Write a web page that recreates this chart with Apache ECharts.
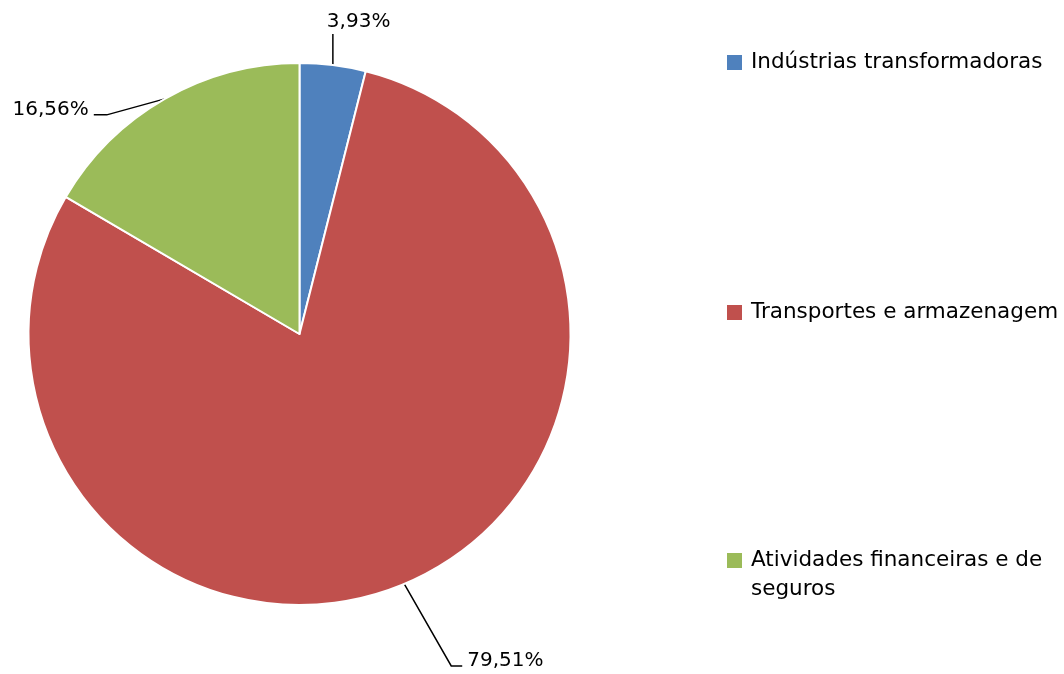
<!DOCTYPE html>
<html>
<head>
<meta charset="utf-8">
<script src="https://cdn.jsdelivr.net/npm/echarts@6/dist/echarts.min.js"></script>
<style>
html,body{margin:0;padding:0;background:#fff;}
#c{width:1064px;height:674px;}
</style>
</head>
<body>
<div id="c"></div>
<script>
var categories = ['Indústrias transformadoras', 'Transportes e armazenagem', 'Atividades financeiras e de seguros'];
var values = [3.93, 79.51, 16.56];
var colors = ['#4F81BD', '#C0504D', '#9BBB59'];

var FONT = 'DejaVu Sans';
var chart = echarts.init(document.getElementById('c'), null, {renderer: 'canvas'});

function legendFor(i, top, extra, fmt) {
  var ts = {fontFamily: FONT, fontSize: 21.5, color: '#000', lineHeight: 29, padding: [0, 0, 0, 4]};
  if (extra) { for (var k in extra) ts[k] = extra[k]; }
  var l = {
    data: [categories[i]],
    left: 727, top: top, padding: 0,
    orient: 'vertical',
    itemWidth: 15, itemHeight: 15,
    icon: 'rect',
    itemStyle: {borderWidth: 0},
    selectedMode: false,
    textStyle: ts
  };
  if (fmt) l.formatter = fmt;
  return l;
}

var data = categories.map(function (n, i) {
  return {name: n, value: values[i], itemStyle: {color: colors[i]}};
});

chart.setOption({
  animation: false,
  backgroundColor: '#fff',
  legend: [
    legendFor(0, 48),
    legendFor(1, 298),
    legendFor(2, 517, {width: 300, overflow: 'break'}, function (name) { return '\n' + name; })
  ],
  series: [{
    type: 'pie',
    center: [299.5, 334],
    radius: 271,
    startAngle: 90,
    clockwise: true,
    avoidLabelOverlap: false,
    itemStyle: {borderColor: '#fff', borderWidth: 2},
    emphasis: {disabled: true},
    label: {
      show: true,
      position: 'outside',
      fontFamily: FONT,
      fontSize: 20,
      color: '#000',
      formatter: function (p) { return p.value.toFixed(2).replace('.', ',') + '%'; }
    },
    labelLine: {show: true, length: 20, length2: 10, lineStyle: {color: '#000', width: 1.5}},
    labelLayout: function (p) {
      var pts = p.labelLinePoints;
      if (!pts) return {};
      var s = pts[0];
      var m, e;
      if (p.dataIndex === 0) {
        e = [s[0], s[1] - 31];
        return {x: e[0] - 6, y: e[1] - 2, align: 'left', verticalAlign: 'bottom', labelLinePoints: [s, e]};
      } else if (p.dataIndex === 1) {
        m = [s[0] + 47, s[1] + 82];
        e = [m[0] + 11, m[1]];
        return {x: e[0] + 5, y: e[1] - 5, align: 'left', verticalAlign: 'middle', labelLinePoints: [s, m, e]};
      } else {
        m = [s[0] - 58, s[1] + 16];
        e = [m[0] - 13, m[1]];
        return {x: e[0] - 5, y: e[1] - 5, align: 'right', verticalAlign: 'middle', labelLinePoints: [s, m, e]};
      }
    },
    data: data
  }]
});
</script>
</body>
</html>
